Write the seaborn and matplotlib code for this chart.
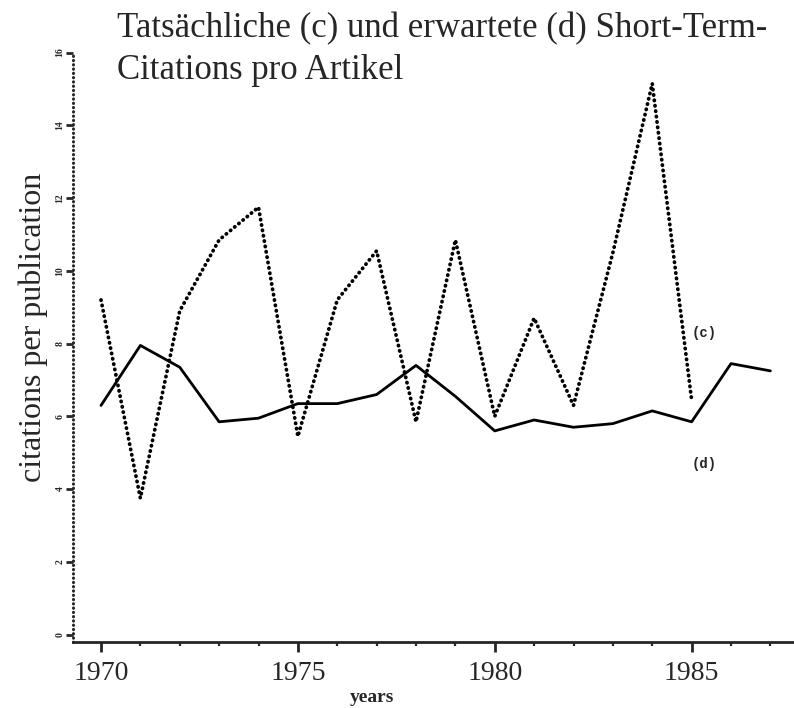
import pandas as pd
import matplotlib.pyplot as plt
import seaborn as sns

# Werte
years_c = list(range(1970, 1986))
actual_c = [9.2, 3.75, 8.9, 10.85, 11.75, 5.45, 9.2, 10.55, 5.85, 10.85,
            6.0, 8.7, 6.3, 10.5, 15.15, 6.45]
years_d = list(range(1970, 1988))
expected_d = [6.3, 7.95, 7.35, 5.85, 5.95, 6.35, 6.35, 6.6, 7.4, 6.55,
              5.6, 5.9, 5.7, 5.8, 6.15, 5.85, 7.45, 7.25]
y_ticks = [0, 2, 4, 6, 8, 10, 12, 14, 16]
x_ticks = [1970, 1975, 1980, 1985]

title_line1 = 'Tatsächliche (c) und erwartete (d) Short-Term-'
title_line2 = 'Citations pro Artikel'

df_c = pd.DataFrame({'year': years_c, 'value': actual_c})
df_d = pd.DataFrame({'year': years_d, 'value': expected_d})

sns.set_style('ticks')
plt.rcParams['font.family'] = ['Liberation Serif', 'DejaVu Serif']

fig = plt.figure(figsize=(7.94, 7.08), dpi=100)
ax = fig.add_axes([0.092, 0.0934, 0.908, 0.8323])

sns.lineplot(data=df_c, x='year', y='value', ax=ax, color='black',
             linewidth=2.7, linestyle=(0, (0.1, 1.35)),
             dash_capstyle='round', solid_capstyle='round')
sns.lineplot(data=df_d, x='year', y='value', ax=ax, color='black',
             linewidth=2.0)

ax.set_xticks(x_ticks)
ax.set_xticks(years_d, minor=True)
ax.set_yticks(y_ticks)
ax.set_yticklabels([str(v) for v in y_ticks], rotation=90, va='center')
ax.set_xlim(1969.29, 1987.6)
ax.set_ylim(-0.2, 16)

sns.despine(ax=ax)
ax.spines['left'].set_linestyle((0, (0.1, 1.3)))
ax.spines['left'].set_capstyle('round')
ax.spines['left'].set_linewidth(2.2)
ax.spines['bottom'].set_linewidth(2.0)

ax.tick_params(axis='x', which='major', length=7.5, width=2, pad=6,
               labelsize=20, direction='out')
ax.tick_params(axis='x', which='minor', length=3, width=1.6, direction='out')
ax.tick_params(axis='y', which='major', length=5, width=2, pad=1,
               labelsize=7, direction='out')
for lab in ax.get_yticklabels():
    lab.set_fontweight('bold')

ax.set_xlabel('')
ax.set_ylabel('')

ax.text(1985.33, 8.28, '(c)', family='Liberation Mono', fontweight='bold',
        fontsize=10, ha='center', va='center')
ax.text(1985.33, 4.7, '(d)', family='Liberation Mono', fontweight='bold',
        fontsize=10, ha='center', va='center')

fig.text(0.0416, 0.538, 'citations per publication', rotation=90,
         fontsize=23, ha='center', va='center')
fig.text(372 / 794, 1 - 698 / 708, 'years', fontsize=14, fontweight='bold',
         ha='center', va='center')
fig.text(117 / 794, 1 - 37 / 708, title_line1, fontsize=25, va='baseline')
fig.text(117 / 794, 1 - 79 / 708, title_line2, fontsize=25, va='baseline')

fig.savefig('out.png', dpi=100)
